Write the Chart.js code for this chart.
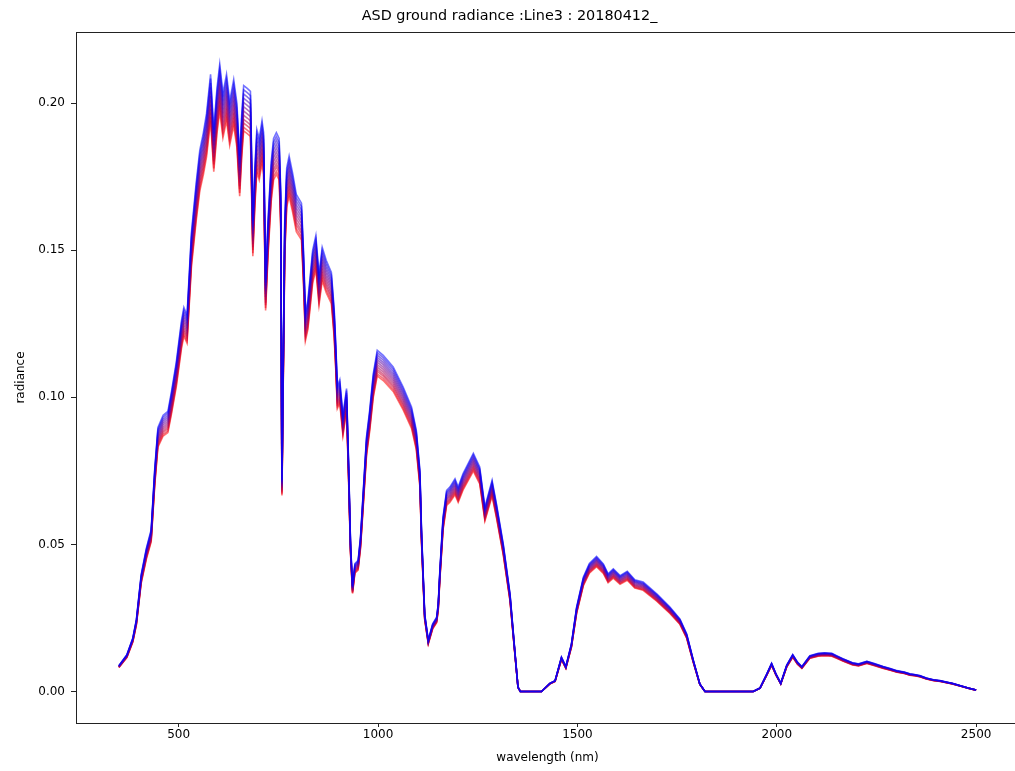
<!DOCTYPE html>
<html>
<head>
<meta charset="utf-8">
<script src="https://cdn.jsdelivr.net/npm/chart.js@4"></script>
<style>
  html, body { margin: 0; padding: 0; background: #fff; overflow: hidden; }
  #wrap { width: 1019px; height: 771px; position: relative; }
</style>
</head>
<body>
<div id="wrap"><canvas id="chartCanvas"></canvas></div>
<script>
// --- Data ---
// wavelength (nm) and the radiance of the top (bluest) scan
const wavelengths = [
  350, 370, 385, 394, 406, 419, 431, 440, 448, 461, 473, 482, 494, 507, 513, 521,
  532, 544, 553, 562, 570, 580, 588, 596, 603, 611, 620, 628, 638, 646, 653, 658,
  663, 672, 680, 686, 691, 696, 702, 709, 713, 718, 724, 732, 738, 745, 752, 756,
  759, 762, 766, 771, 777, 786, 795, 808, 813, 818, 824, 829, 836, 844, 852, 860,
  870, 883, 890, 894, 898, 904, 912, 921, 926, 931, 936, 942, 950, 956, 962, 971,
  979, 988, 998, 1013, 1038, 1063, 1084, 1096, 1105, 1109, 1117, 1126, 1137, 1147, 1151, 1155,
  1163, 1172, 1180, 1193, 1201, 1213, 1239, 1255, 1268, 1286, 1297, 1314, 1331, 1343, 1351, 1357,
  1410, 1431, 1444, 1460, 1471, 1485, 1498, 1515, 1530, 1548, 1565, 1577, 1590, 1607, 1625, 1644,
  1665, 1699, 1732, 1757, 1774, 1791, 1807, 1820, 1941, 1958, 1975, 1987, 1998, 2010, 2025, 2040,
  2052, 2063, 2083, 2104, 2120, 2138, 2150, 2167, 2190, 2205, 2226, 2245, 2267, 2285, 2301, 2320,
  2334, 2345, 2359, 2375, 2393, 2410, 2426, 2440, 2460, 2480, 2500
];
const topScan = [
  0.0088, 0.0125, 0.0182, 0.0245, 0.0398, 0.0487, 0.055, 0.0758, 0.0898, 0.0939, 0.0952, 0.102, 0.112, 0.126, 0.1306, 0.128,
  0.156, 0.173, 0.184, 0.190, 0.1966, 0.2098, 0.191, 0.205, 0.2133, 0.2035, 0.2098, 0.2007, 0.208, 0.200, 0.182, 0.196,
  0.206, 0.205, 0.204, 0.160, 0.178, 0.191, 0.188, 0.194, 0.190, 0.140, 0.160, 0.180, 0.188, 0.190, 0.188, 0.170,
  0.072, 0.110, 0.160, 0.178, 0.182, 0.176, 0.169, 0.166, 0.150, 0.129, 0.133, 0.140, 0.150, 0.155, 0.142, 0.151,
  0.1466, 0.1425, 0.130, 0.118, 0.104, 0.106, 0.094, 0.103, 0.0786, 0.0507, 0.036, 0.0435, 0.0446, 0.0525, 0.066, 0.0865,
  0.0956, 0.108, 0.116, 0.1143, 0.1103, 0.1035, 0.0967, 0.0888, 0.0752, 0.0548, 0.0264, 0.0175, 0.023, 0.0253, 0.0299, 0.041,
  0.0593, 0.0684, 0.0695, 0.0723, 0.0695, 0.074, 0.081, 0.0763, 0.0627, 0.0718, 0.0638, 0.0502, 0.0332, 0.014, 0.0015, 0,
  0, 0.0028, 0.0037, 0.0117, 0.0085, 0.0162, 0.0287, 0.0389, 0.0435, 0.0459, 0.0434, 0.040, 0.0417, 0.0394, 0.0409, 0.038,
  0.0372, 0.0332, 0.0287, 0.0247, 0.0196, 0.0105, 0.0026, 0, 0, 0.0012, 0.006, 0.0096, 0.006, 0.0028, 0.009, 0.0126,
  0.010, 0.0085, 0.0122, 0.013, 0.0132, 0.013, 0.0122, 0.0111, 0.0098, 0.0094, 0.0103, 0.0095, 0.0085, 0.0078, 0.0071, 0.0066,
  0.006, 0.0058, 0.0054, 0.0046, 0.004, 0.0037, 0.0032, 0.0028, 0.002, 0.0012, 0.0005
];
// relative level of each scan vs the top one (red = lowest, blue = top)
const scanGain = [0.925, 0.931, 0.938, 0.944, 0.951, 0.958, 0.965, 0.972, 0.979, 0.986, 0.993, 1.0];
const xTicks = [500, 1000, 1500, 2000, 2500];
const yTicks = [0.00, 0.05, 0.10, 0.15, 0.20];

// --- Build datasets: one line per scan, red -> blue, blue drawn last ---
const datasets = scanGain.map((g, i) => {
  const t = i / (scanGain.length - 1);
  const r = Math.round(255 * (1 - t));
  const b = Math.round(255 * t);
  return {
    label: "scan " + (i + 1),
    data: wavelengths.map((w, k) => ({ x: w, y: topScan[k] * g })),
    borderColor: `rgba(${r},0,${b},0.55)`,
    borderWidth: 1.6,
    pointRadius: 0,
    tension: 0,
    fill: false,
    order: scanGain.length - 1 - i
  };
});

// frame around the plot area, like matplotlib spines
const framePlugin = {
  id: "frame",
  afterDraw(chart) {
    const { ctx, chartArea: a } = chart;
    ctx.save();
    ctx.strokeStyle = "#222";
    ctx.lineWidth = 1;
    ctx.strokeRect(Math.round(a.left) + 0.5, Math.round(a.top) + 0.5,
      Math.round(a.right - a.left), Math.round(a.bottom - a.top));
    ctx.restore();
  }
};

const font = { family: "'DejaVu Sans', sans-serif", size: 12 };

new Chart(document.getElementById("chartCanvas"), {
  type: "line",
  data: { datasets },
  options: {
    responsive: true,
    maintainAspectRatio: false,
    animation: false,
    layout: { padding: 0 },
    plugins: {
      legend: { display: false },
      tooltip: { enabled: false },
      title: {
        display: true,
        text: "ASD ground radiance :Line3 : 20180412_",
        color: "#000",
        font: { family: font.family, size: 14.4, weight: "normal" },
        padding: { top: 8, bottom: 6.7 }
      }
    },
    scales: {
      x: {
        type: "linear",
        min: 242.5,
        max: 2607.5,
        afterBuildTicks: s => { s.ticks = xTicks.map(v => ({ value: v })); },
        afterFit: s => { s.height = 48; },
        ticks: { color: "#000", font, padding: 1, maxRotation: 0, callback: v => String(v) },
        grid: { display: true, drawOnChartArea: false, drawTicks: true, tickLength: 4, color: "#222" },
        border: { display: false },
        title: { display: true, text: "wavelength (nm)", color: "#000", font, padding: { top: 0, bottom: 5.8 } }
      },
      y: {
        type: "linear",
        min: -0.0107,
        max: 0.2242,
        afterBuildTicks: s => { s.ticks = yTicks.map(v => ({ value: v })); },
        afterFit: s => { s.width = 76; },
        ticks: { color: "#000", font, padding: 6, callback: v => v.toFixed(2) },
        grid: { display: true, drawOnChartArea: false, drawTicks: true, tickLength: 5, color: "#222" },
        border: { display: false },
        title: { display: true, text: "radiance", color: "#000", font, padding: { top: 13.8, bottom: 0 } }
      }
    }
  },
  plugins: [framePlugin]
});
</script>
</body>
</html>
